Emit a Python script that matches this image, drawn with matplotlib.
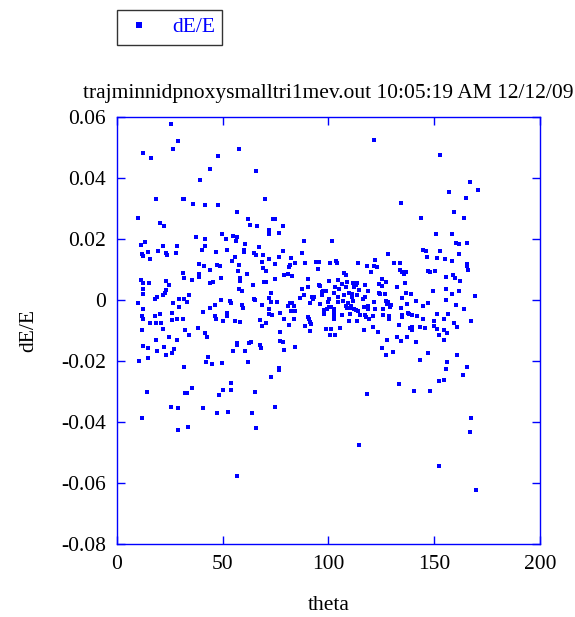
import matplotlib
matplotlib.use("Agg")
import matplotlib.pyplot as plt
from matplotlib.ticker import FixedLocator, FuncFormatter

plt.rcParams['font.family'] = ['Liberation Serif', 'DejaVu Serif']

title_text = "trajminnidpnoxysmalltri1mev.out 10:05:19 AM 12/12/09"
x_label = "theta"
y_label = "dE/E"
series_label = "dE/E"

x_ticks = [0, 50, 100, 150, 200]
y_ticks = [-0.08, -0.06, -0.04, -0.02, 0.0, 0.02, 0.04, 0.06]

theta = [
    25.5, 28.8, 26.6, 12.1, 16.0, 47.8, 43.8, 39.4, 18.3, 31.0, 31.7, 35.9, 41.6, 47.8,
    9.9, 20.5, 22.2, 37.2, 41.8,
    57.8, 65.5, 70.1, 56.7, 61.8, 62.9, 66.2, 73.6, 74.7, 78.4, 71.7, 71.7, 76.7, 49.5,
    55.0, 51.7, 56.7,
    121.6,
    152.6, 166.7, 170.5, 157.2, 164.9, 134.4, 159.4, 143.8, 164.3, 150.9, 158.3,
    13.1, 11.3, 21.7, 28.2, 41.7, 40.2, 46.6, 11.7, 12.3, 14.5, 19.5, 23.3, 23.5, 27.9,
    15.6, 38.9, 41.1, 43.9, 47.2, 48.7, 31.0, 38.9, 38.9, 31.8, 35.6, 43.9, 45.4, 11.2,
    12.4, 15.0, 23.3, 24.4, 12.3, 12.3, 23.3, 22.5, 21.9, 18.9, 18.0, 34.0, 31.7, 29.5,
    33.2, 26.3, 10.1, 29.5, 12.3, 40.6, 43.9, 46.3, 20.2, 26.0, 46.2, 46.6, 18.1, 11.7,
    12.3, 26.1, 28.4, 31.2, 15.6, 18.4, 20.6, 38.3, 32.3, 21.7, 11.7, 41.7, 34.0, 42.4,
    24.4, 28.5, 18.4, 12.3, 14.5, 22.4, 26.9, 25.8, 18.9, 23.3, 14.5, 10.6, 42.2, 44.7,
    42.8,
    56.2, 60.7, 67.3, 52.1, 60.0, 60.0, 55.6, 54.5, 57.8, 64.9, 65.5, 69.0, 71.7, 68.8,
    74.5, 76.7, 78.4, 82.2, 84.0, 81.6, 81.1, 87.7, 88.4, 89.0, 57.3, 69.0, 70.3, 61.6,
    58.0, 58.0, 64.1, 69.3, 70.3, 74.5, 78.9, 80.7, 82.7, 49.2, 57.8, 59.1, 87.3, 72.8,
    72.1, 72.8, 75.6, 64.6, 65.1, 53.2, 54.0, 49.2, 68.4, 80.7, 81.6, 82.9, 83.8, 82.1,
    84.4, 88.4, 86.6, 59.2, 59.4, 72.0, 77.3, 52.1, 52.1, 71.7, 73.4, 50.1, 55.6, 58.3,
    67.7, 70.3, 68.4, 79.2, 83.6, 81.1, 88.8, 77.2, 56.7, 56.6, 62.5, 63.5, 67.4, 67.9,
    77.2, 78.4, 84.0, 78.8, 55.0, 60.7, 49.6, 61.8,
    101.6, 128.2, 94.2, 95.5, 100.5, 103.5, 104.0, 113.9, 121.8, 118.3, 121.3, 122.9,
    95.0, 120.3, 107.4, 108.4, 90.3, 100.2, 104.6, 109.0, 111.4, 113.4, 106.3, 125.2,
    127.3, 90.3, 95.5, 96.1, 97.5, 96.9, 98.6, 103.3, 105.1, 108.2, 112.3, 113.1, 117.4,
    114.4, 118.9, 124.1, 125.1, 92.0, 93.3, 92.6, 96.9, 100.2, 102.7, 104.4, 107.4,
    109.5, 110.9, 111.2, 113.7, 116.2, 117.2, 123.7, 124.3, 126.6, 95.8, 99.7, 104.3,
    107.1, 109.3, 111.8, 91.2, 99.2, 100.2, 101.1, 98.1, 102.4, 108.4, 109.0, 110.0,
    110.7, 112.0, 113.1, 114.0, 116.9, 118.6, 118.9, 121.6, 122.1, 125.7, 127.0, 128.2,
    127.6, 129.8, 129.0, 97.7, 102.4, 102.4, 102.4, 106.6, 110.3, 115.0, 117.4, 117.8,
    119.2, 121.1, 126.0, 128.5, 128.5, 90.3, 91.0, 91.4, 109.5, 113.4, 91.7, 98.9,
    101.4, 105.5, 116.7, 121.1, 123.2, 100.7, 103.2, 91.2, 127.7, 125.1, 127.0, 130.6,
    131.2, 133.9, 144.9, 146.0, 146.5, 152.6, 151.5, 154.9, 158.3, 160.5, 161.6, 165.4,
    161.6, 165.4, 165.6, 166.2, 133.7, 135.0, 135.6, 136.7, 147.1, 148.2, 150.4, 155.6,
    158.8, 159.9, 162.3, 136.1, 132.2, 149.5, 155.6, 158.3, 161.6, 169.3, 155.5, 160.4,
    164.3, 136.7, 138.8, 135.0, 141.6, 147.1, 144.9, 137.2, 134.4, 137.4, 138.3, 139.3,
    135.0, 134.7, 142.1, 151.1, 156.6, 154.4, 149.8, 144.5, 159.4, 160.8, 167.3, 133.3,
    149.8, 138.5, 139.6, 139.7, 143.3, 145.6, 151.4, 154.5, 156.1, 152.2, 154.4, 132.2,
    137.2, 134.5, 141.6, 147.1, 161.0, 143.2, 156.0,
    31.7, 14.0, 32.3, 33.2, 35.6, 48.4, 25.7, 29.0, 40.6, 47.3, 11.8, 33.4, 29.0,
    76.7, 76.7, 72.8, 54.0, 50.1, 54.0, 65.1, 74.5, 52.3, 64.0, 65.5, 56.7,
    118.3, 114.4,
    133.3, 155.5, 165.4, 152.2, 154.4, 163.8, 140.5, 148.2, 167.6, 167.1, 152.2, 170.0,
]

dE = [
    0.0579, 0.0524, 0.0497, 0.0482, 0.0467, 0.0474, 0.0432, 0.0394, 0.0332, 0.0332,
    0.0332, 0.0317, 0.0312, 0.0312, 0.0271, 0.0254, 0.0243, 0.0208, 0.0201,
    0.0497, 0.0424, 0.0332, 0.0289, 0.0266, 0.0247, 0.0243, 0.0266, 0.0266, 0.0243,
    0.0231, 0.0218, 0.0220, 0.0217, 0.0212, 0.0201, 0.0207,
    0.0525,
    0.0478, 0.0389, 0.0363, 0.0355, 0.0336, 0.0320, 0.0289, 0.0270, 0.0270, 0.0217,
    0.0217,
    0.0192, 0.0182, 0.0178, 0.0178, 0.0178, 0.0166, 0.0158, 0.0151, 0.0146, 0.0158,
    0.0162, 0.0154, 0.0148, 0.0155, 0.0135, 0.0120, 0.0112, 0.0100, 0.0116, 0.0113,
    0.0089, 0.0086, 0.0077, 0.0074, 0.0066, 0.0057, 0.0060, 0.0066, 0.0055, 0.0057,
    0.0062, 0.0051, 0.0035, 0.0020, 0.0033, 0.0024, 0.0017, 0.0011, 0.0004, 0.0016,
    0.0004, 0.0002, -0.0007, -0.0011, -0.0011, -0.0023, -0.0031, -0.0038, -0.0027,
    -0.0017, -0.0046, -0.0042, -0.0054, -0.0062, -0.0054, -0.0054, -0.0062, -0.0065,
    -0.0062, -0.0062, -0.0077, -0.0077, -0.0077, -0.0093, -0.0100, -0.0096, -0.0099,
    -0.0108, -0.0116, -0.0123, -0.0123, -0.0131, -0.0131, -0.0151, -0.0157, -0.0154,
    -0.0162, -0.0173, -0.0169, -0.0181, -0.0192, -0.0199, -0.0203, -0.0209, -0.0186,
    0.0193, 0.0184, 0.0173, 0.0166, 0.0166, 0.0159, 0.0143, 0.0127, 0.0115, 0.0155,
    0.0147, 0.0147, 0.0135, 0.0126, 0.0120, 0.0143, 0.0162, 0.0139, 0.0123, 0.0115,
    0.0110, 0.0154, 0.0195, 0.0123, 0.0097, 0.0104, 0.0097, 0.0086, 0.0071, 0.0062,
    0.0051, 0.0058, 0.0058, 0.0069, 0.0081, 0.0086, 0.0078, 0.0074, 0.0035, 0.0029,
    0.0035, 0.0023, 0.0006, -0.0007, -0.0007, 0.0005, -0.0001, -0.0002, -0.0011,
    0.0000, -0.0015, -0.0019, -0.0011, -0.0010, -0.0018, -0.0035, -0.0035, 0.0016,
    0.0006, -0.0015, -0.0025, -0.0031, -0.0041, -0.0041, -0.0053, -0.0047, -0.0050,
    -0.0069, -0.0069, -0.0073, -0.0065, -0.0076, -0.0085, -0.0062, -0.0061, -0.0081,
    -0.0085, -0.0104, -0.0140, -0.0147, -0.0142, -0.0139, -0.0147, -0.0158, -0.0133,
    -0.0137, -0.0154, -0.0164, -0.0169, -0.0169, -0.0208, -0.0204,
    0.0195, 0.0150, 0.0124, 0.0124, 0.0123, 0.0130, 0.0123, 0.0123, 0.0132, 0.0112,
    0.0112, 0.0110, 0.0103, 0.0093, 0.0089, 0.0084, 0.0070, 0.0062, 0.0066, 0.0061,
    0.0057, 0.0055, 0.0053, 0.0069, 0.0059, 0.0044, 0.0051, 0.0046, 0.0031, 0.0026,
    0.0031, 0.0042, 0.0036, 0.0044, 0.0044, 0.0051, 0.0051, 0.0033, 0.0031, 0.0053,
    0.0047, 0.0011, 0.0011, 0.0002, 0.0016, 0.0005, 0.0022, 0.0011, 0.0018, 0.0022,
    0.0011, 0.0019, 0.0018, 0.0005, 0.0011, 0.0024, 0.0019, 0.0019, -0.0014, -0.0008,
    -0.0006, -0.0003, -0.0011, -0.0003, -0.0011, -0.0028, -0.0024, -0.0022, -0.0034,
    -0.0030, -0.0018, -0.0026, -0.0026, -0.0018, -0.0030, -0.0033, -0.0035, -0.0022,
    -0.0019, -0.0028, -0.0006, -0.0030, -0.0030, -0.0003, -0.0006, -0.0013, -0.0017,
    -0.0024, -0.0046, -0.0043, -0.0052, -0.0062, -0.0050, -0.0046, -0.0050, -0.0049,
    -0.0057, -0.0061, -0.0051, -0.0049, -0.0052, -0.0061, -0.0057, -0.0063, -0.0072,
    -0.0068, -0.0068, -0.0078, -0.0096, -0.0094, -0.0092, -0.0099, -0.0088, -0.0104,
    -0.0114, -0.0115, -0.0103, -0.0131, -0.0158, -0.0181, -0.0172,
    0.0123, 0.0123, 0.0166, 0.0162, 0.0143, 0.0162, 0.0139, 0.0135, 0.0127, 0.0189,
    0.0184, 0.0189, 0.0150, 0.0119, 0.0112, 0.0099, 0.0100, 0.0092, 0.0085, 0.0092,
    0.0097, 0.0092, 0.0097, 0.0077, 0.0081, 0.0074, 0.0062, 0.0057, 0.0042, 0.0031,
    0.0038, 0.0020, 0.0031, 0.0012, 0.0000, -0.0015, -0.0030, 0.0023, 0.0020, 0.0008,
    -0.0004, -0.0011, -0.0019, -0.0012, -0.0027, -0.0041, -0.0046, -0.0050, -0.0050,
    -0.0057, -0.0054, -0.0046, -0.0046, -0.0061, -0.0069, -0.0062, -0.0076, -0.0088,
    -0.0070, -0.0081, -0.0085, -0.0092, -0.0090, -0.0098, -0.0090, -0.0093, -0.0096,
    -0.0100, -0.0108, -0.0116, -0.0131, -0.0123, -0.0123, -0.0133, -0.0139, -0.0174,
    -0.0181, -0.0197, -0.0204,
    -0.0219, -0.0301, -0.0305, -0.0305, -0.0289, -0.0313, -0.0351, -0.0356, -0.0356,
    -0.0370, -0.0386, -0.0417, -0.0428,
    -0.0222, -0.0231, -0.0252, -0.0274, -0.0297, -0.0297, -0.0301, -0.0351, -0.0367,
    -0.0371, -0.0420, -0.0579,
    -0.0310, -0.0475,
    -0.0275, -0.0228, -0.0220, -0.0266, -0.0263, -0.0247, -0.0298, -0.0298, -0.0386,
    -0.0432, -0.0544, -0.0625,
]

blue = '#0000ff'

fig = plt.figure(figsize=(5.75, 6.17), dpi=100)
ax = fig.add_axes([0.2035, 0.1191, 0.7355, 0.6905])

ax.plot(theta, dE, linestyle='none', marker='s', markersize=3.0,
        markeredgewidth=0, color=blue, label=series_label)

ax.set_xlim(0, 200)
ax.set_ylim(-0.08, 0.06)
ax.xaxis.set_major_locator(FixedLocator(x_ticks))
ax.yaxis.set_major_locator(FixedLocator(y_ticks))
ax.xaxis.set_major_formatter(FuncFormatter(lambda v, p: f"{v:g}"))
ax.yaxis.set_major_formatter(FuncFormatter(lambda v, p: "0" if abs(v) < 1e-12 else f"{v:.2f}"))

for s in ax.spines.values():
    s.set_color(blue)
    s.set_linewidth(1.0)
ax.tick_params(which='both', direction='in', top=True, right=True,
               color=blue, length=6, width=1.0, labelsize=15.5, labelcolor='black',
               pad=8)

ax.set_title(title_text, fontsize=15.5, pad=14)
ax.set_xlabel(x_label, fontsize=15.5, labelpad=16)
ax.set_ylabel(y_label, fontsize=15.5, labelpad=16)

leg = fig.legend(loc='upper left', bbox_to_anchor=(0.2035, 0.984), borderaxespad=0,
                 fontsize=15.5, frameon=True, fancybox=False, edgecolor='black',
                 markerscale=1.3, handlelength=1.3, handletextpad=0.9,
                 borderpad=0.35)
leg.get_frame().set_linewidth(1.0)
for t in leg.get_texts():
    t.set_color(blue)

fig.savefig("out.png", dpi=100)
